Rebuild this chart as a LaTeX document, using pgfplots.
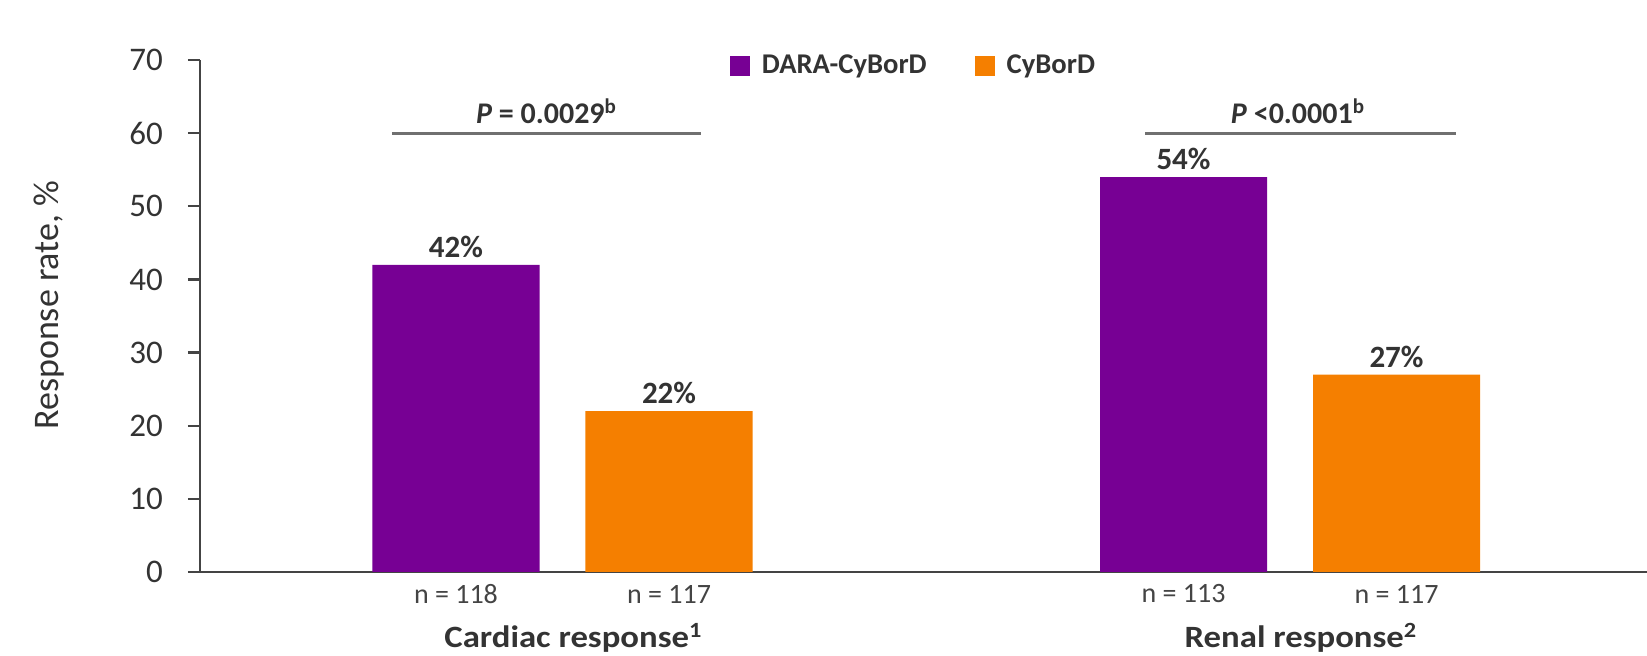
\documentclass[border=0pt]{standalone}
\usepackage{pgfplots}
\pgfplotsset{compat=1.18}
\usepackage{fontspec}
\setmainfont{Carlito}
\newfontfamily\catfont{Carlito}[FakeStretch=1.12]

\definecolor{dara}{HTML}{770094}
\definecolor{cybord}{HTML}{F57F00}
\definecolor{txt}{HTML}{333333}
\definecolor{ntxt}{HTML}{444444}
\definecolor{axisgray}{HTML}{444444}
\definecolor{pline}{HTML}{707070}

\begin{document}
\begin{tikzpicture}
\useasboundingbox (0,0) rectangle (823.5pt,328pt);
\begin{axis}[
  at={(100pt,42pt)}, anchor=south west,
  scale only axis, width=723.5pt, height=256pt,
  xmin=0.50172, xmax=2.4907, ymin=0, ymax=70,
  axis lines=left,
  axis line style={-, axisgray, line width=1.2pt},
  tick align=outside, major tick length=6pt,
  /pgf/number format/assume math mode=true,
  ytick={0,10,...,70},
  ytick style={axisgray, line width=1.2pt},
  y tick label style={font=\fontsize{16.5}{18}\selectfont, text=txt, xshift=-9pt},
  xtick={0.8536,1.1464,1.8536,2.1464},
  xticklabels={n = 118, n = 117, n = 113, n = 117},
  xtick style={draw=none},
  x tick label style={font=\fontsize{14}{16}\selectfont, text=ntxt, anchor=center, yshift=-5pt},
  ylabel={Response rate, \%},
  ylabel style={font=\fontsize{18}{20}\selectfont, text=txt, at={(axis description cs:-0.104,0.521)}, anchor=center},
  legend style={at={(axis cs:1.4838,69.2)}, anchor=center, draw=none, fill=none,
    font=\bfseries\fontsize{14.3}{16}\selectfont, text=txt, legend columns=2,
    /tikz/every odd column/.append style={column sep=4pt},
    /tikz/every even column/.append style={column sep=22pt}},
  legend image code/.code={\fill[#1] (0pt,-5pt) rectangle (10pt,5pt);},
  clip=false,
]
% significance brackets above each pair
\addplot[pline, line width=1.6pt, forget plot] coordinates {(0.7656,60) (1.19,60)};
\addplot[pline, line width=1.6pt, forget plot] coordinates {(1.8007,60) (2.228,60)};

\addplot[ybar, bar width=0.2296, bar shift=0pt, fill=dara, draw=none,
  nodes near coords={\pgfmathprintnumber{\pgfplotspointmeta}\%},
  every node near coord/.append style={font=\bfseries\fontsize{15.5}{17}\selectfont, text=txt}]
  coordinates {(0.8536,42) (1.8536,54)};
\addlegendentry{DARA-CyBorD}
\addplot[ybar, bar width=0.2296, bar shift=0pt, fill=cybord, draw=none,
  nodes near coords={\pgfmathprintnumber{\pgfplotspointmeta}\%},
  every node near coord/.append style={font=\bfseries\fontsize{15.5}{17}\selectfont, text=txt}]
  coordinates {(1.1464,22) (2.1464,27)};
\addlegendentry{CyBorD}

\node[anchor=south, text=txt, font=\bfseries\fontsize{15}{17}\selectfont, yshift=1pt]
  at (axis cs:0.978,60) {\textit{P} = 0.0029\textsuperscript{b}};
\node[anchor=south, text=txt, font=\bfseries\fontsize{15}{17}\selectfont, yshift=1pt]
  at (axis cs:2.011,60) {\textit{P} <0.0001\textsuperscript{b}};

\node[text=txt, font=\catfont\bfseries\fontsize{15.5}{18}\selectfont, yshift=-33pt]
  at (axis cs:1.015,0) {Cardiac response\textsuperscript{1}};
\node[text=txt, font=\catfont\bfseries\fontsize{15.5}{18}\selectfont, yshift=-33pt]
  at (axis cs:2.015,0) {Renal response\textsuperscript{2}};
\end{axis}
\end{tikzpicture}
\end{document}
